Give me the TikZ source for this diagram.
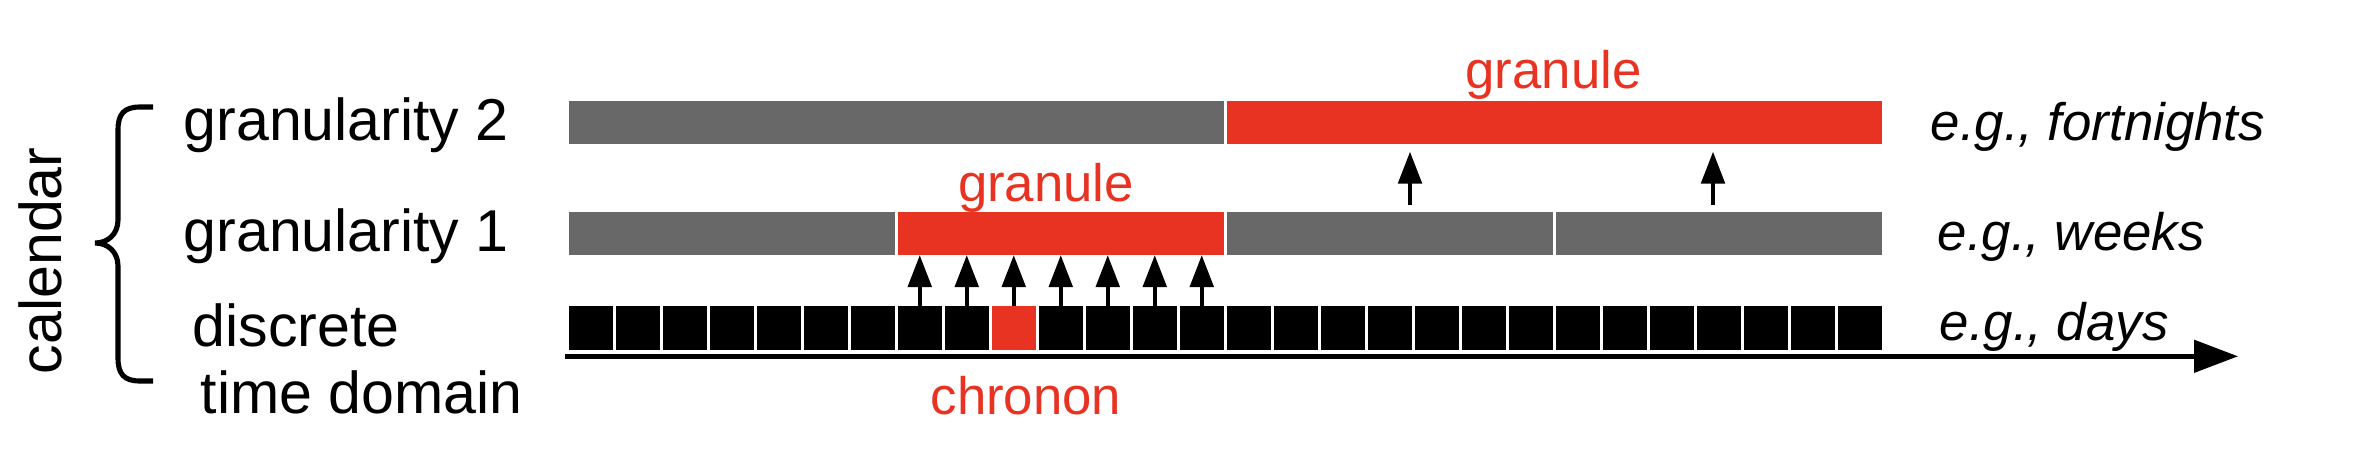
\documentclass[tikz,border=0pt]{standalone}
\usepackage{fontspec}
\setmainfont{Liberation Sans}
\usetikzlibrary{arrows.meta}
\definecolor{gred}{RGB}{232,51,35}
\definecolor{ggray}{RGB}{104,104,104}
\begin{document}
\begin{tikzpicture}[x=0.01cm,y=-0.01cm,
  bigtxt/.style={font=\fontsize{16.8}{20}\selectfont, inner sep=0pt},
  smalltxt/.style={font=\fontsize{15}{18}\selectfont, inner sep=0pt},
  redtxt/.style={smalltxt, text=gred},
  egtxt/.style={smalltxt, font=\fontsize{15}{18}\selectfont\itshape},
  daybox/.style={fill=black, minimum width=0.435cm, minimum height=0.44cm, inner sep=0pt, outer sep=0pt},
  redday/.style={daybox, fill=gred},
  segbox/.style={fill=ggray, minimum height=0.435cm, inner sep=0pt, outer sep=0pt},
  redseg/.style={segbox, fill=gred},
  upar/.style={line width=1.15pt, -{Triangle[length=0.32cm,width=0.235cm]}},
  axisline/.style={line width=1.35pt, -{Triangle[length=0.44cm,width=0.32cm]}},
  bracestyle/.style={line width=1.45pt, line cap=butt}
]
\useasboundingbox (0,0) rectangle (2367,448);

% left labels
\node[bigtxt, rotate=90, anchor=base] (cal) at (61.7,260.8) {calendar};
\draw[bracestyle] (153,107) -- (140,107) .. controls (124,107) and (118,114) .. (118,130)
  -- (118,220) .. controls (118,234) and (108,243) .. (95,243)
  .. controls (108,243) and (118,252) .. (118,266)
  -- (118,358) .. controls (118,374) and (124,381) .. (140,381) -- (153,381);
\node[bigtxt, anchor=base west] (l2) at (183,140) {granularity 2};
\node[bigtxt, anchor=base west] (l1) at (183,251) {granularity 1};
\node[bigtxt, anchor=base west] (l0a) at (192,346) {discrete};
\node[bigtxt, anchor=base west] (l0b) at (200,413) {time domain};

% granularity 2
\node[segbox, minimum width=6.545cm] (g2a) at (896.25,122.3) {};
\node[redseg, minimum width=6.54cm] (g2b) at (1554.5,122.3) {};
% granularity 1
\node[segbox, minimum width=3.255cm] (g1a) at (731.75,233.4) {};
\node[redseg, minimum width=3.255cm] (g1b) at (1060.75,233.4) {};
\node[segbox, minimum width=3.255cm] (g1c) at (1389.75,233.4) {};
\node[segbox, minimum width=3.255cm] (g1d) at (1718.75,233.4) {};

% days
\foreach \k in {0,...,27}{
  \ifnum\k=9
    \node[redday] (d\k) at ({590.75+47*\k},328) {};
  \else
    \node[daybox] (d\k) at ({590.75+47*\k},328) {};
  \fi
}

% axis
\coordinate (ax0) at (565,356.3);
\coordinate (ax1) at (2238,356.3);
\draw[axisline] (ax0) -- (ax1);

% arrows days -> granule
\foreach \k in {7,...,13}{
  \draw[upar] (d\k.north) -- (d\k.north |- g1b.south);
}
% arrows weeks -> fortnight
\coordinate (p1) at (1410,205);
\coordinate (q1) at (1410,151.7);
\coordinate (p2) at (1713,205);
\coordinate (q2) at (1713,151.7);
\draw[upar] (p1) -- (q1);
\draw[upar] (p2) -- (q2);

% red labels
\node[redtxt, anchor=base] (gr2) at (1553.5,88) {granule};
\node[redtxt, anchor=base] (gr1) at (1046,201.7) {granule};
\node[redtxt, anchor=base] (chr) at (1026,414) {chronon};

% examples
\node[egtxt, anchor=base west] (e2) at (1930,140) {e.g., fortnights};
\node[egtxt, anchor=base west] (e1) at (1937,250) {e.g., weeks};
\node[egtxt, anchor=base west] (e0) at (1939,340) {e.g., days};
\end{tikzpicture}
\end{document}
